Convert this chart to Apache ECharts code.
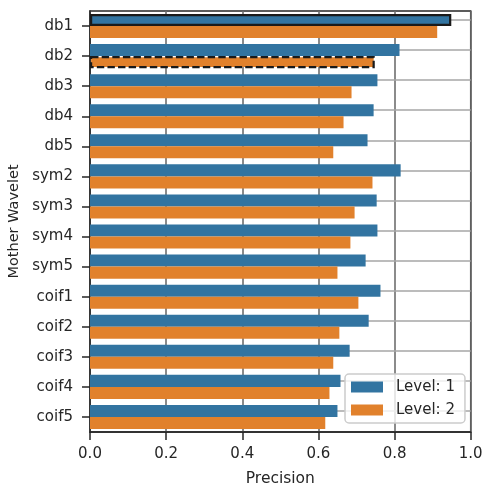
<!DOCTYPE html>
<html>
<head>
<meta charset="utf-8">
<script src="https://cdn.jsdelivr.net/npm/echarts@6/dist/echarts.min.js"></script>
<style>html,body{margin:0;padding:0;background:#fff;}#c{width:483px;height:489px;}</style>
</head>
<body>
<div id="c"></div>
<script>
const categories = ['db1','db2','db3','db4','db5','sym2','sym3','sym4','sym5','coif1','coif2','coif3','coif4','coif5'];
const level1 = [0.949, 0.813, 0.755, 0.745, 0.729, 0.816, 0.753, 0.755, 0.724, 0.763, 0.732, 0.682, 0.658, 0.650];
const level2 = [0.912, 0.748, 0.687, 0.666, 0.639, 0.742, 0.695, 0.684, 0.650, 0.705, 0.655, 0.639, 0.629, 0.618];
const seriesNames = ['Level: 1', 'Level: 2'];
const xTicks = [0, 0.2, 0.4, 0.6, 0.8, 1.0];

const FONT = 'DejaVu Sans';
const DARK = '#262626';
const BLUE = '#3274a1';
const ORANGE = '#e1812c';

const chart = echarts.init(document.getElementById('c'), null, {renderer: 'canvas'});

const l1Data = level1.map((v, i) => i === 0
  ? {value: v, itemStyle: {borderColor: '#1a1a1a', borderWidth: 2.2, borderType: 'solid'}}
  : v);
const l2Data = level2.map((v, i) => i === 1
  ? {value: v, itemStyle: {borderColor: '#1a1a1a', borderWidth: 2.2, borderType: [7.4, 3.2]}}
  : v);

chart.setOption({
  animation: false,
  textStyle: {fontFamily: FONT, color: DARK},
  grid: {left: 90, right: 12.3, top: 11, bottom: 57, show: true, borderColor: DARK, borderWidth: 1.5,
         containLabel: false, outerBoundsMode: 'none'},
  legend: {
    orient: 'vertical', left: 345, top: 374,
    padding: [5, 10, 5, 6],
    itemWidth: 32, itemHeight: 11, itemGap: 7,
    icon: 'rect',
    backgroundColor: 'rgba(255,255,255,0.8)',
    borderColor: '#cccccc', borderWidth: 1.5, borderRadius: 4,
    textStyle: {fontFamily: FONT, fontSize: 15, color: DARK, lineHeight: 16, padding: [0, 0, 0, 8]},
    data: seriesNames
  },
  xAxis: {
    type: 'value', min: 0, max: 1, interval: 0.2,
    name: 'Precision', nameLocation: 'middle', nameGap: 39,
    nameTextStyle: {fontFamily: FONT, fontSize: 15.5, color: DARK},
    axisLine: {show: true, lineStyle: {color: DARK, width: 1.5}},
    axisTick: {show: true, inside: false, length: 8, lineStyle: {color: DARK, width: 1.5}},
    axisLabel: {fontFamily: FONT, fontSize: 15, color: DARK, margin: 15, formatter: v => {
      const t = xTicks.find(x => Math.abs(x - v) < 1e-9); return (t !== undefined ? t : v).toFixed(1);
    }},
    splitLine: {show: true, lineStyle: {color: '#6e6e6e', width: 1.6}}
  },
  yAxis: {
    type: 'category', data: categories, inverse: true,
    name: 'Mother Wavelet', nameLocation: 'middle', nameGap: 67,
    nameTextStyle: {fontFamily: FONT, fontSize: 14.5, color: DARK},
    axisLine: {show: true, lineStyle: {color: DARK, width: 1.5}},
    axisTick: {show: true, inside: false, length: 8, alignWithLabel: true, lineStyle: {color: DARK, width: 1.5}},
    axisLabel: {fontFamily: FONT, fontSize: 15, color: DARK, margin: 17},
    splitLine: {show: false}
  },
  series: [{
    name: seriesNames[0], type: 'bar', data: l1Data,
    itemStyle: {color: BLUE}, barGap: '0%', barCategoryGap: '20%',
    markLine: {
      silent: true, z: 1, symbol: ['none', 'none'], animation: false,
      label: {show: false},
      lineStyle: {color: '#a6a6a6', width: 1.6, type: 'solid'},
      emphasis: {disabled: true},
      data: categories.map(c => ({yAxis: c}))
    }
  }, {
    name: seriesNames[1], type: 'bar', data: l2Data,
    itemStyle: {color: ORANGE}, barGap: '0%', barCategoryGap: '20%'
  }]
});
</script>
</body>
</html>
